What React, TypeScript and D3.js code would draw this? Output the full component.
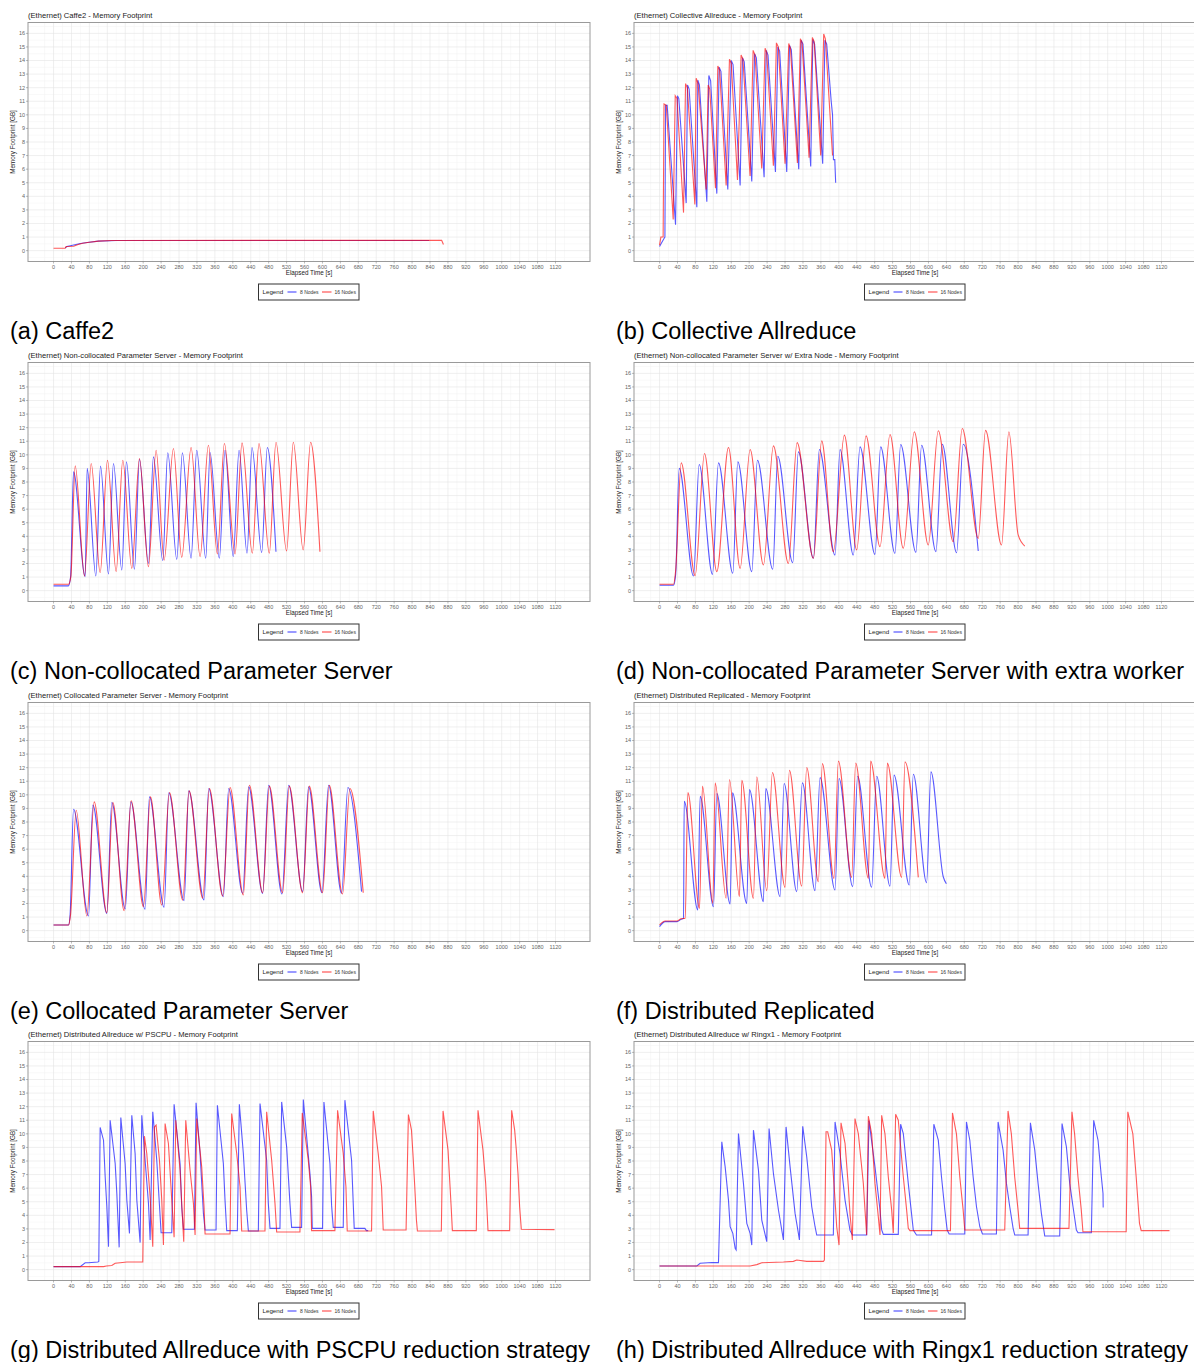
import React from 'react';
import * as d3 from 'd3';

// ---- tick labels ----
const xTicks = [0, 40, 80, 120, 160, 200, 240, 280, 320, 360, 400, 440, 480, 520, 560, 600, 640, 680, 720, 760, 800, 840, 880, 920, 960, 1000, 1040, 1080, 1120];
const yTicks = [0, 1, 2, 3, 4, 5, 6, 7, 8, 9, 10, 11, 12, 13, 14, 15, 16];
const seriesNames = ['8 Nodes', '16 Nodes'];
const seriesColors = ['#0000ff', '#ff0000'];

// ---- series: [elapsed time s, memory GB] ----
const caffe2_8 = [[26, 0.2], [30, 0.3], [40, 0.38], [50, 0.45], [60, 0.52], [75, 0.6], [100, 0.7], [140, 0.75], [838, 0.75]];
const caffe2_16 = [[0, 0.18], [26, 0.18], [28, 0.3], [45, 0.32], [55, 0.45], [65, 0.55], [80, 0.62], [100, 0.7], [130, 0.75], [866, 0.76], [870, 0.45]];

const allreduce_8 = [[0, 0.3], [4, 0.55], [10, 0.9], [12, 1.0], [13.5, 10.7], [17, 10.7], [35.7, 1.9],
  [40, 11.4], [43, 11.2], [59.4, 3.5], [62.4, 12.2], [66, 11.9], [83.2, 3.2], [85.4, 12.55], [89, 12.2], [105.5, 3.6],
  [110, 12.9], [114, 12.5], [127.8, 4.2], [133, 13.5], [137, 13.2], [152.3, 4.5], [160, 14.0], [164, 13.7], [179.8, 4.8],
  [185, 14.2], [189, 13.9], [205.8, 5.1], [212, 14.5], [216, 14.2], [233.3, 5.4], [238, 14.75], [242, 14.4], [258.6, 5.8],
  [264, 15.0], [268, 14.7], [283.8, 5.8], [290, 15.1], [294, 14.8], [310.6, 6.0], [316, 15.5], [320, 15.2], [337.3, 6.2],
  [342, 15.55], [346, 15.2], [364, 6.4], [369, 15.5], [373, 15.2], [383, 11.0], [386, 10.0], [388, 6.7], [391, 6.7], [393, 5.0]];
const allreduce_16 = [[0, 0.4], [3, 1.0], [8, 1.0], [10, 10.8], [15, 10.7], [30.5, 2.3],
  [35, 11.4], [39, 11.2], [53.5, 2.8], [58, 12.3], [62, 12.0], [78.8, 3.4], [81.7, 12.7], [86, 12.3], [104, 4.5],
  [108.5, 12.2], [112, 11.9], [124.8, 4.6], [130, 13.6], [134, 13.3], [148.6, 4.8], [156, 14.1], [160, 13.8], [173.9, 5.2],
  [182, 14.4], [186, 14.1], [202, 5.5], [208.8, 14.75], [213, 14.4], [228, 6.05], [235.5, 14.9], [239, 14.6], [254, 6.25],
  [260.8, 15.3], [265, 15.0], [280, 6.4], [288.3, 15.25], [292, 14.9], [307.6, 6.45], [314.3, 15.6], [318, 15.3], [333.6, 6.85],
  [341, 15.7], [345, 15.4], [359.6, 7.0], [366.3, 15.95], [370, 15.6], [386, 7.0]];

const noncoll_8 = [[0, 0.35], [33, 0.35], [38, 1.0], [44.6, 8.75], [70.6, 1.03], [75, 9.0], [94.4, 1.08], [104.8, 9.17],
  [122.6, 1.23], [133.7, 9.36], [152.3, 1.52], [162.7, 9.49], [180.5, 1.57], [191.7, 9.68], [211.8, 2.0], [222.9, 9.85],
  [243.7, 2.2], [254.8, 10.15], [275, 2.3], [287.5, 10.15], [306.9, 2.38], [319.5, 10.34], [339.6, 2.38], [349.2, 10.17],
  [370, 2.38], [382.6, 10.34], [401, 2.5], [413.9, 10.34], [431.7, 2.75], [442.8, 10.54], [464.4, 2.8], [477, 10.54], [496.3, 2.87]];
const noncoll_16 = [[0, 0.47], [33.4, 0.47], [38.6, 1.03], [48.3, 9.19], [69.1, 1.08], [84, 9.36], [104, 1.32], [120.4, 9.6],
  [139.7, 1.4], [154.5, 9.6], [174.6, 1.64], [191.7, 9.73], [211.8, 1.76], [228.8, 10.34], [246.7, 2.25], [267.5, 10.47],
  [286, 2.45], [306.9, 10.54], [327, 2.5], [345.5, 10.71], [365.6, 2.7], [381.2, 10.83], [405, 2.7], [420.5, 10.88],
  [443.6, 2.75], [458.4, 10.83], [481.5, 2.75], [496.3, 10.93], [520, 2.92], [535, 10.93], [557, 3.0], [573.6, 10.93], [594.4, 2.87]];

const noncollx_8 = [[0, 0.4], [31.2, 0.4], [36, 1.2], [43.8, 9.0], [75.8, 1.08], [88.4, 9.29], [118.1, 1.2], [131.5, 9.41],
  [163.5, 1.28], [174.6, 9.49], [205.8, 1.4], [218.4, 9.6], [252.6, 1.57], [263.8, 9.9], [297.2, 2.05], [309.8, 10.22],
  [343.3, 2.38], [356.6, 10.39], [391.6, 2.62], [402.7, 10.39], [432.4, 2.62], [447.3, 10.59], [480.7, 2.67], [493.4, 10.59],
  [525.3, 2.74], [538, 10.76], [572.1, 2.82], [584.7, 10.71], [616.7, 2.87], [630.8, 10.78], [662.8, 2.79], [677.6, 10.78], [711.1, 2.92]];
const noncollx_16 = [[0, 0.47], [31.2, 0.47], [36, 1.5], [48.3, 9.41], [79.5, 1.1], [100.3, 10.1], [127.8, 1.4], [153.8, 10.54],
  [179.8, 1.64], [202.1, 10.39], [231.8, 1.89], [254.1, 10.66], [287.5, 2.0], [306.9, 10.9], [343.3, 2.38], [361.8, 11.03],
  [387.8, 2.87], [412.4, 11.45], [439.9, 3.0], [460.7, 11.4], [491.9, 3.24], [514.2, 11.5], [543.9, 3.12], [568.4, 11.7],
  [599.6, 3.36], [621.9, 11.77], [655.3, 3.6], [675.4, 11.94], [711.1, 3.85], [727.4, 11.8], [763.1, 3.36], [779.4, 11.7],
  [800.2, 4.1], [815, 3.28]];

const coll_8 = [[0, 0.42], [33.4, 0.42], [37, 1.2], [44.6, 8.94], [78, 1.08], [87.7, 9.24], [118.9, 1.27], [130, 9.44],
  [160, 1.6], [172.4, 9.49], [204.3, 1.57], [214, 9.85], [246.7, 1.72], [257.1, 10.15], [291.3, 2.21], [301.7, 10.29],
  [335.8, 2.26], [346.2, 10.47], [378.9, 2.5], [390.8, 10.47], [422, 2.74], [435.4, 10.59], [466.6, 2.74], [480, 10.71],
  [509.7, 2.7], [524.6, 10.71], [555.8, 2.87], [569.1, 10.59], [598.9, 2.79], [613.7, 10.71], [642.7, 2.75], [656.8, 10.54], [687.3, 2.87]];
const coll_16 = [[0, 0.42], [33.4, 0.42], [38, 1.2], [50.5, 8.87], [74.3, 1.08], [90.6, 9.48], [118.9, 1.32], [132.3, 9.44],
  [157.5, 1.47], [173.1, 9.56], [200.6, 1.76], [216.2, 9.85], [241.5, 1.89], [258.6, 10.17], [288.3, 2.25], [302.4, 10.29],
  [332.9, 2.38], [347.7, 10.47], [377.4, 2.55], [393.8, 10.54], [423.5, 2.62], [436.9, 10.71], [466.6, 2.79], [481.5, 10.64],
  [511.2, 2.79], [526, 10.64], [555.8, 2.79], [570.6, 10.64], [600.3, 2.79], [615.2, 10.71], [644.9, 2.7], [661.3, 10.47], [691, 2.79]];

const distrep_8 = [[0, 0.3], [12.6, 0.66], [38.6, 0.66], [48.3, 0.83], [53.5, 0.9], [55, 9.53], [85.4, 1.52], [90.6, 9.9],
  [120.4, 1.76], [127.8, 10.1], [157.5, 1.96], [162.7, 10.15], [194.7, 2.01], [200.6, 10.39], [231.8, 2.13], [237, 10.47],
  [269, 2.5], [277.9, 10.83], [306.1, 2.87], [318.7, 10.88], [347, 2.94], [358.1, 11.27], [391.6, 2.99], [400.5, 11.2],
  [431, 3.24], [442, 11.37], [473.3, 3.19], [484.4, 11.37], [514.2, 3.28], [523.1, 11.45], [557.3, 3.36], [566.2, 11.52],
  [595.9, 3.53], [605.5, 11.69], [633, 3.97], [640, 3.45]];
const distrep_16 = [[0, 0.42], [12.6, 0.71], [38.6, 0.71], [48.3, 0.88], [57.2, 0.9], [63.2, 10.17], [89.2, 1.64], [95.8, 10.64],
  [118.9, 2.01], [124.1, 10.88], [148.6, 2.38], [156, 11.13], [178.3, 2.5], [183.5, 11.08], [209.5, 2.38], [217, 11.32],
  [239.2, 2.94], [251.9, 11.64], [280.1, 3.19], [289.8, 11.81], [317.3, 3.28], [328.4, 12.01], [354.4, 3.6], [363.3, 12.3],
  [389.3, 3.85], [399, 12.48], [428.7, 3.92], [437.6, 12.35], [465.9, 3.85], [471, 12.48], [503, 3.85], [508.2, 12.35],
  [540.2, 3.92], [547.6, 12.43], [577.3, 3.92]];

const pscpu_8 = [[0, 0.22], [59.4, 0.22], [70.6, 0.51], [78, 0.51], [98.8, 0.56], [101, 0.6], [104, 10.47], [111.5, 9.53],
  [115.2, 6.84], [118.9, 4.63], [122.6, 1.69], [126.3, 11.0], [137.5, 7.82], [141.2, 5.61], [146.4, 1.64],
  [150.1, 11.2], [159.7, 7.82], [163.5, 5.12], [169.4, 2.67], [174.6, 11.37], [182, 8.55], [185.8, 5.12], [193.2, 1.99],
  [196.9, 11.37], [204.3, 8.06], [211.8, 4.88], [215.5, 2.18], [221.4, 11.62], [230.3, 8.06], [240, 2.72], [263.8, 2.72],
  [269, 12.18], [282.3, 7.82], [286, 4.63], [289.8, 2.97], [314.3, 2.97], [318, 12.28], [326.9, 8.55], [334.4, 4.14], [338.1, 2.92], [362.6, 2.92],
  [365.6, 12.11], [378.9, 7.82], [382.6, 5.12], [386.4, 2.87], [410.1, 2.87], [414.6, 12.18], [423.5, 8.55], [430.9, 4.39], [434.7, 2.84], [457, 2.84],
  [460.7, 12.23], [475.5, 8.06], [479.2, 4.88], [483, 3.04], [505.2, 3.04], [509, 12.35], [520.1, 9.04], [527.5, 4.88], [531.2, 3.11], [553.5, 3.11],
  [557.3, 12.52], [572.1, 7.08], [575.8, 5.37], [577.3, 3.04], [600.3, 3.04], [603.3, 12.35], [616.7, 7.82], [620.4, 4.75], [624.1, 3.11], [646.4, 3.11],
  [650.1, 12.48], [665, 8.06], [668.7, 4.88], [670.9, 3.04], [694.7, 3.04], [698, 2.87], [702.1, 2.87]];
const pscpu_16 = [[0, 0.22], [111.5, 0.22], [118, 0.27], [130, 0.3], [137.5, 0.47], [148.6, 0.51], [163.5, 0.56], [199.1, 0.56],
  [202.8, 9.83], [208, 8.55], [215.5, 5.37], [221.4, 1.69], [225.1, 10.5], [228.8, 10.64], [236.3, 8.06], [241.5, 5.12], [245.2, 1.81],
  [248.9, 10.76], [256.3, 9.29], [263.8, 5.12], [269, 2.38], [272.7, 11.0], [282.3, 7.33], [286, 4.88], [290.5, 2.06],
  [295, 11.0], [304.6, 7.33], [312.1, 4.88], [315.8, 2.55], [319.5, 11.13], [330.6, 7.57], [335.8, 4.63], [338.1, 2.62], [393.8, 2.62],
  [397.5, 11.5], [408.7, 8.55], [416.1, 6.1], [419.8, 2.84], [471.8, 2.84], [475.5, 11.62], [486.7, 8.06], [494.1, 4.88], [497.8, 2.77], [549.8, 2.77],
  [555, 11.54], [568.4, 8.06], [573.6, 6.1], [575.8, 2.87], [627.8, 2.87], [633.8, 11.74], [646.4, 8.55], [652.4, 6.1], [655.3, 2.84], [709.6, 2.84],
  [713.3, 11.69], [724.4, 8.55], [731.9, 6.1], [735.6, 2.92], [786.6, 2.92], [791.8, 11.42], [798.7, 10.27], [802.3, 8.31], [806, 6.1], [809.7, 3.65], [811.9, 2.84], [865.3, 2.84],
  [869.1, 11.69], [876.5, 9.78], [880.2, 8.8], [883.9, 6.59], [887.6, 4.39], [889.9, 2.87], [943.3, 2.87],
  [947.1, 11.74], [958.2, 8.8], [964.2, 6.35], [967.2, 4.39], [969.4, 2.87], [1017.7, 2.87],
  [1022.2, 11.74], [1028.9, 10.27], [1032.6, 8.8], [1036.3, 7.08], [1040, 4.63], [1043.7, 2.97], [1117.9, 2.95]];

const ring_8 = [[0, 0.27], [83.2, 0.27], [90.6, 0.47], [116.7, 0.52], [131.5, 0.52], [138.9, 9.41], [146.4, 7.57], [153.8, 5.12],
  [157.5, 3.16], [163.5, 2.67], [168.7, 1.57], [170.9, 1.45], [176.1, 10.02], [187.2, 6.35], [194.7, 3.41], [202.1, 2.67], [205.8, 1.81],
  [209.5, 10.27], [220.7, 7.33], [228.1, 3.65], [239.2, 2.06], [244.4, 10.39], [254.1, 7.08], [265.3, 4.39], [276.4, 2.18],
  [282.3, 10.51], [291.3, 7.57], [302.4, 4.14], [309.8, 2.67], [312.1, 2.18], [319.5, 10.56], [328.4, 8.31], [339.6, 4.63], [347, 3.16], [350.7, 2.55], [387.8, 2.55],
  [391.6, 10.88], [402.7, 8.55], [413.9, 5.12], [425, 2.89], [430.2, 2.55], [462.1, 2.55],
  [467.3, 10.97], [480.7, 7.57], [491.9, 4.39], [495.7, 2.92], [499.3, 2.6], [532.7, 2.6],
  [537.9, 10.71], [543.9, 10.02], [555, 6.35], [566.2, 2.92], [573.4, 2.55], [607, 2.55],
  [612, 10.71], [622, 9.53], [629.1, 6.84], [636.6, 4.39], [641.8, 2.92], [646.2, 2.62], [681.1, 2.62],
  [684.8, 10.88], [692.3, 9.53], [699.7, 6.84], [707.2, 4.63], [714.6, 3.16], [720.5, 2.62], [751.7, 2.62],
  [755.4, 10.88], [766.6, 8.8], [774, 6.35], [781.4, 4.63], [788.9, 3.04], [792.6, 2.55], [822.3, 2.55],
  [827.5, 10.81], [837.2, 8.8], [844.6, 6.35], [852, 4.14], [859.5, 2.48], [892.9, 2.48],
  [898.1, 10.76], [907.8, 9.04], [915.2, 6.35], [922.6, 4.63], [930.1, 2.92], [933.8, 2.72], [963.5, 2.72],
  [968.7, 11.0], [978.4, 9.53], [985.8, 6.84], [989.5, 5.61], [989.9, 4.58]];
const ring_16 = [[0, 0.27], [202.1, 0.27], [217, 0.37], [228.1, 0.51], [276.4, 0.56], [298.7, 0.61], [306.1, 0.71], [328.4, 0.61], [365.6, 0.61], [367.8, 0.71],
  [371.5, 10.15], [375.2, 10.15], [384.1, 8.8], [391.6, 5.12], [395.3, 3.16], [400.5, 1.81],
  [404.9, 10.81], [413.9, 9.3], [421.3, 6.1], [425, 4.1], [430.2, 2.18], [436.1, 11.13], [443.6, 10.0], [454.7, 6.35], [458.4, 4.4], [462.1, 2.55],
  [465.9, 11.3], [473.3, 10.0], [480.7, 6.35], [488.1, 3.9], [491.9, 2.55], [495.6, 11.37], [503, 10.0], [510.4, 6.84], [517.9, 4.4], [521.6, 2.7],
  [526.8, 11.45], [532.7, 11.0], [543.9, 6.84], [551.3, 4.4], [555, 3.04], [558.7, 2.87], [649.1, 2.87],
  [653.6, 11.54], [662.5, 10.0], [669.9, 6.84], [677.4, 4.4], [681.1, 2.92], [770.2, 2.92],
  [777.6, 11.69], [785, 10.0], [792.4, 6.84], [799.9, 4.4], [803.6, 3.04], [913.5, 3.04],
  [920.2, 11.62], [926.1, 10.0], [933.6, 6.84], [941, 4.4], [944.7, 2.79], [1041.2, 2.79],
  [1044.9, 11.62], [1056.1, 10.0], [1063.5, 6.84], [1070.9, 3.41], [1074.7, 2.87], [1137.9, 2.87]];

const panels = [
  { title: '(Ethernet) Caffe2 - Memory Footprint', caption: '(a) Caffe2', col: 0, row: 0, s8: caffe2_8, s16: caffe2_16, smooth: false },
  { title: '(Ethernet) Collective Allreduce - Memory Footprint', caption: '(b) Collective Allreduce', col: 1, row: 0, s8: allreduce_8, s16: allreduce_16, smooth: false },
  { title: '(Ethernet) Non-collocated Parameter Server - Memory Footprint', caption: '(c) Non-collocated Parameter Server', col: 0, row: 1, s8: noncoll_8, s16: noncoll_16, smooth: true },
  { title: '(Ethernet) Non-collocated Parameter Server w/ Extra Node - Memory Footprint', caption: '(d) Non-collocated Parameter Server with extra worker', col: 1, row: 1, s8: noncollx_8, s16: noncollx_16, smooth: true },
  { title: '(Ethernet) Collocated Parameter Server - Memory Footprint', caption: '(e) Collocated Parameter Server', col: 0, row: 2, s8: coll_8, s16: coll_16, smooth: true },
  { title: '(Ethernet) Distributed Replicated - Memory Footprint', caption: '(f) Distributed Replicated', col: 1, row: 2, s8: distrep_8, s16: distrep_16, smooth: true },
  { title: '(Ethernet) Distributed Allreduce w/ PSCPU - Memory Footprint', caption: '(g) Distributed Allreduce with PSCPU reduction strategy', col: 0, row: 3, s8: pscpu_8, s16: pscpu_16, smooth: false },
  { title: '(Ethernet) Distributed Allreduce w/ Ringx1 - Memory Footprint', caption: '(h) Distributed Allreduce with Ringx1 reduction strategy', col: 1, row: 3, s8: ring_8, s16: ring_16, smooth: false },
];

const width = 1194, height = 1362;
const colX = [0, 606];
const rowY = [0, 340, 680, 1019];
const font = '"Liberation Sans", Arial, sans-serif';
const plot = { left: 28, right: 590, top: 22.5, bottom: 261.5 };

const x = d3.scaleLinear().domain([-57, 1197]).range([plot.left, plot.right]);
const y = d3.scaleLinear().domain([-0.8, 16.8]).range([plot.bottom, plot.top]);
const xMinor = xTicks.map((t) => t - 20).concat([1140]);
const yMinor = yTicks.map((t) => t - 0.5).concat([16.5]);

function Panel({ p }) {
  const line = d3.line().x((d) => x(d[0])).y((d) => y(d[1]))
    .curve(p.smooth ? d3.curveMonotoneX : d3.curveLinear);
  return (
    <g transform={`translate(${colX[p.col]},${rowY[p.row]})`} fontFamily={font}>
      <text x={plot.left} y={18} fontSize={7.6} fill="#222">{p.title}</text>
      <rect x={plot.left} y={plot.top} width={plot.right - plot.left} height={plot.bottom - plot.top} fill="#fff" />
      {xMinor.map((t) => <line key={'xm' + t} x1={x(t)} x2={x(t)} y1={plot.top} y2={plot.bottom} stroke="#f3f3f3" strokeWidth={0.5} />)}
      {yMinor.map((t) => <line key={'ym' + t} x1={plot.left} x2={plot.right} y1={y(t)} y2={y(t)} stroke="#f3f3f3" strokeWidth={0.5} />)}
      {xTicks.map((t) => <line key={'xg' + t} x1={x(t)} x2={x(t)} y1={plot.top} y2={plot.bottom} stroke="#e4e4e4" strokeWidth={0.6} />)}
      {yTicks.map((t) => <line key={'yg' + t} x1={plot.left} x2={plot.right} y1={y(t)} y2={y(t)} stroke="#e4e4e4" strokeWidth={0.6} />)}
      <path d={line(p.s8)} fill="none" stroke={seriesColors[0]} strokeOpacity={0.65} strokeWidth={1.1} />
      <path d={line(p.s16)} fill="none" stroke={seriesColors[1]} strokeOpacity={0.65} strokeWidth={1.1} />
      <rect x={plot.left} y={plot.top} width={plot.right - plot.left} height={plot.bottom - plot.top} fill="none" stroke="#9a9a9a" strokeWidth={1} />
      {yTicks.map((t) => (
        <g key={'yt' + t}>
          <line x1={plot.left - 2} x2={plot.left} y1={y(t)} y2={y(t)} stroke="#777" strokeWidth={0.5} />
          <text x={plot.left - 3} y={y(t)} dy="0.35em" textAnchor="end" fontSize={5.5} fill="#666">{t}</text>
        </g>
      ))}
      {xTicks.map((t) => (
        <g key={'xt' + t}>
          <line x1={x(t)} x2={x(t)} y1={plot.bottom} y2={plot.bottom + 2} stroke="#777" strokeWidth={0.5} />
          <text x={x(t)} y={plot.bottom + 7.5} textAnchor="middle" fontSize={5.5} fill="#666">{t}</text>
        </g>
      ))}
      <text x={(plot.left + plot.right) / 2} y={275} textAnchor="middle" fontSize={6.3} fill="#222">Elapsed Time [s]</text>
      <text transform={`translate(15,${(plot.top + plot.bottom) / 2}) rotate(-90)`} textAnchor="middle" fontSize={6.3} fill="#222">Memory Footprint [GB]</text>
      <g>
        <rect x={258.5} y={284} width={100.5} height={16} fill="#fff" stroke="#333" strokeWidth={1} />
        <text x={262.5} y={294.2} fontSize={6.2} fill="#222">Legend</text>
        <line x1={287.5} x2={296.5} y1={292} y2={292} stroke={seriesColors[0]} strokeOpacity={0.8} strokeWidth={1} />
        <text x={300} y={294} fontSize={5} fill="#333">{seriesNames[0]}</text>
        <line x1={322} x2={331.5} y1={292} y2={292} stroke={seriesColors[1]} strokeOpacity={0.8} strokeWidth={1} />
        <text x={334.5} y={294} fontSize={5} fill="#333">{seriesNames[1]}</text>
      </g>
      <text x={10} y={339} fontSize={23.5} fill="#000">{p.caption}</text>
    </g>
  );
}

export default function App() {
  return (
    <div style={{ position: 'absolute', left: 0, top: 0 }}>
      <svg width={width} height={height} viewBox={`0 0 ${width} ${height}`} style={{ display: 'block', background: '#fff' }}>
        {panels.map((p) => <Panel key={p.caption} p={p} />)}
      </svg>
    </div>
  );
}
